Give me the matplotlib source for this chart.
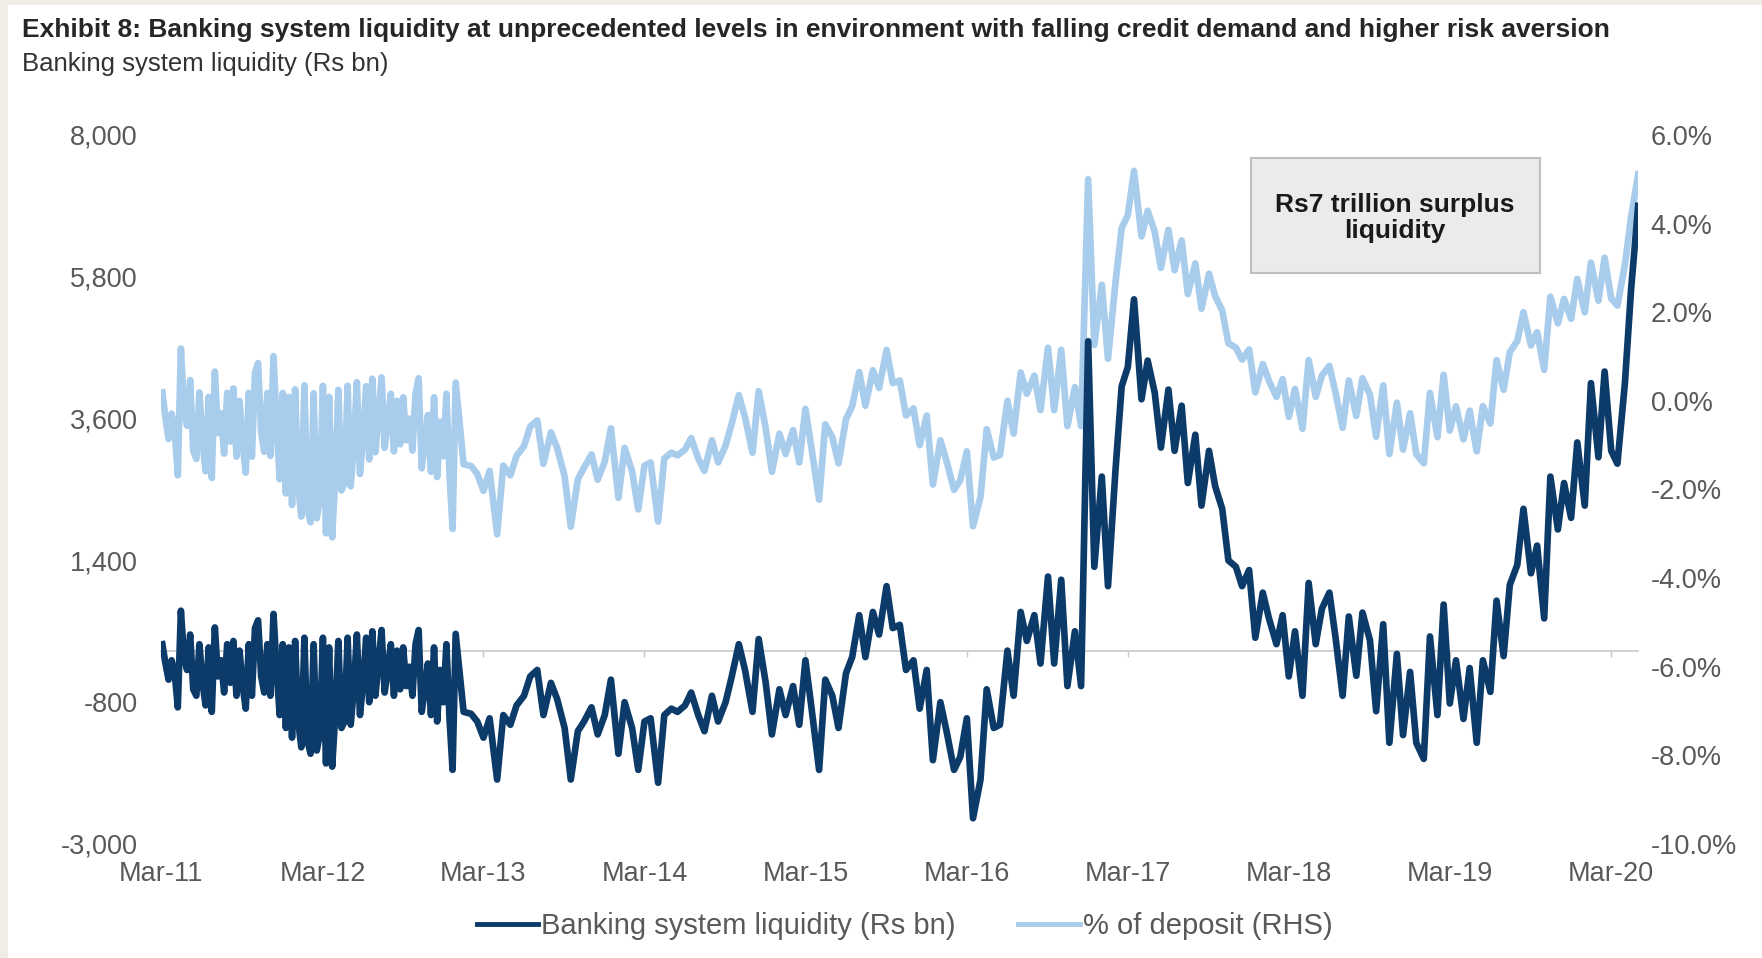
import pandas as pd
import matplotlib
matplotlib.use('Agg')
import matplotlib.pyplot as plt
from matplotlib.patches import Rectangle
from matplotlib.ticker import FuncFormatter
import matplotlib.dates as mdates

plt.rcParams['font.family'] = ['Liberation Sans', 'DejaVu Sans']

# weekly readings, Mar-2011 .. Dec-2012 (Rs bn and % of deposit)
liq_weekly = [100, -200, -450, -150, -350, -880, 620, -100,
              -300, 250, -600, -700, 100, -500, -850, 50,
              -950, 360, -400, -150, -650, 100, -500, 150,
              -700, 0, -550, -900, 100, -700, 350, 470,
              -400, -650, 100, -700, 570, -300, -1000, 100,
              -1200, 50, -1350, 150, -1100, -1500, 200, -1400,
              -1600, 100, -1550, -1300, 200, -1750, 50, -1800,
              -1000, 150, -1200, -1100, 200, -1150, -600, 250,
              -1000, -500, 200, -800, 300, -700, -200, 320,
              -650, -300, 100, -700, 0, -600, 50, -550,
              -250, -700, 100, 320, -950, -600, -200, -1000,
              50, -1100, -300, -800, 100, -1050, -1850, 260]
pct_weekly = [0.19, -0.38, -0.86, -0.29, -0.67, -1.68, 1.18, -0.19,
              -0.56, 0.47, -1.12, -1.31, 0.19, -0.93, -1.59, 0.09,
              -1.74, 0.66, -0.73, -0.28, -1.19, 0.18, -0.92, 0.28,
              -1.26, 0.00, -0.99, -1.62, 0.18, -1.26, 0.63, 0.85,
              -0.71, -1.15, 0.18, -1.24, 1.01, -0.53, -1.77, 0.18,
              -2.09, 0.09, -2.35, 0.26, -1.91, -2.61, 0.35, -2.43,
              -2.74, 0.17, -2.65, -2.22, 0.34, -2.99, 0.09, -3.08,
              -1.68, 0.25, -2.02, -1.85, 0.34, -1.93, -1.01, 0.42,
              -1.65, -0.83, 0.33, -1.32, 0.50, -1.16, -0.33, 0.53,
              -1.06, -0.49, 0.16, -1.14, 0.00, -0.98, 0.08, -0.89,
              -0.40, -1.12, 0.16, 0.51, -1.52, -0.96, -0.32, -1.60,
              0.08, -1.72, -0.47, -1.25, 0.16, -1.64, -2.89, 0.41]

# semi-monthly readings from mid Jan-2013
liq_2013 = [-950, -980, -1100, -1350, -1050, -2000, -1000, -1150, -850, -700, -400, -300,
            -1000, -500, -750, -1200, -2000, -1250, -1100, -880, -1300, -1000, -450, -1600]
liq_2014 = [-800, -1200, -1850, -1100, -1050, -2050, -1000, -900, -950, -850, -650, -1000,
            -1250, -700, -1100, -800, -400, 100, -300, -950, 180, -500, -1300, -600]
liq_2015 = [-1000, -550, -1150, -150, -900, -1850, -450, -700, -1200, -350, -100, 550,
            -100, 600, 250, 1000, 350, 400, -300, -150, -900, -300, -1700, -800]
liq_2016 = [-1250, -1850, -1650, -1050, -2600, -2000, -600, -1200, -1150, 0, -700, 600,
            150, 550, -200, 1150, -200, 1100, -550, 300, -550, 4800, 1300, 2700]
liq_2017 = [1000, 2800, 4100, 4400, 5450, 3900, 4500, 4000, 3150, 4050, 3100, 3800,
            2600, 3350, 2250, 3100, 2550, 2200, 1400, 1300, 1000, 1250, 200, 900]
liq_2018 = [500, 100, 550, -400, 300, -700, 1050, 100, 650, 900, 200, -700,
            530, -390, 590, 160, -940, 410, -1430, -50, -1310, -330, -1430, -1680]
liq_2019 = [220, -1000, 715, -820, -150, -1060, -270, -1430, -150, -640, 775, -85,
            1020, 1330, 2200, 1200, 1630, 500, 2700, 1880, 2600, 2060, 3230, 2250]
liq_2020 = [4150, 3000, 4330, 3100, 2900, 4150, 5600, 6900]

pct_2013 = [-1.43, -1.47, -1.65, -2.03, -1.58, -3.01, -1.46, -1.68, -1.24, -1.02, -0.58, -0.44,
            -1.42, -0.71, -1.06, -1.70, -2.84, -1.77, -1.51, -1.21, -1.78, -1.37, -0.62, -2.19]
pct_2014 = [-1.06, -1.59, -2.45, -1.46, -1.39, -2.72, -1.30, -1.17, -1.23, -1.10, -0.84, -1.30,
            -1.58, -0.89, -1.39, -1.01, -0.51, 0.13, -0.37, -1.17, 0.22, -0.62, -1.60, -0.74]
pct_2015 = [-1.20, -0.66, -1.39, -0.18, -1.08, -2.23, -0.53, -0.82, -1.41, -0.41, -0.12, 0.65,
            -0.11, 0.69, 0.29, 1.15, 0.40, 0.46, -0.33, -0.17, -1.00, -0.33, -1.89, -0.89]
pct_2016 = [-1.36, -2.01, -1.79, -1.14, -2.83, -2.17, -0.64, -1.28, -1.22, 0.00, -0.74, 0.64,
            0.16, 0.57, -0.21, 1.20, -0.21, 1.15, -0.57, 0.31, -0.57, 5.00, 1.26, 2.62]
pct_2017 = [0.95, 2.67, 3.90, 4.19, 5.19, 3.71, 4.29, 3.81, 3.00, 3.86, 2.95, 3.62,
            2.41, 3.10, 2.08, 2.87, 2.36, 2.04, 1.30, 1.20, 0.93, 1.16, 0.19, 0.83]
pct_2018 = [0.45, 0.09, 0.49, -0.36, 0.27, -0.63, 0.92, 0.09, 0.57, 0.79, 0.18, -0.61,
            0.46, -0.34, 0.51, 0.14, -0.81, 0.35, -1.20, -0.04, -1.10, -0.28, -1.20, -1.41]
pct_2019 = [0.18, -0.82, 0.59, -0.67, -0.12, -0.87, -0.22, -1.14, -0.12, -0.51, 0.92, 0.25,
            1.10, 1.35, 2.00, 1.25, 1.55, 0.70, 2.35, 1.75, 2.30, 1.85, 2.75, 2.00]
pct_2020 = [3.12, 2.26, 3.23, 2.31, 2.15, 3.07, 4.15, 5.11]

left_ticks = [-3000, -800, 1400, 3600, 5800, 8000]
right_ticks = [-10, -8, -6, -4, -2, 0, 2, 4, 6]
tick_years = list(range(2011, 2021))

liq_semi = liq_2013 + liq_2014 + liq_2015 + liq_2016 + liq_2017 + liq_2018 + liq_2019 + liq_2020
pct_semi = pct_2013 + pct_2014 + pct_2015 + pct_2016 + pct_2017 + pct_2018 + pct_2019 + pct_2020

dates_weekly = pd.date_range('2011-03-04', periods=len(liq_weekly), freq='7D')
dates_semi = pd.date_range('2013-01-15', periods=len(liq_semi), freq='SMS')
dates = dates_weekly.append(dates_semi)
liquidity = liq_weekly + liq_semi
pct_deposit = pct_weekly + pct_semi

DARK = '#0c3a69'
LIGHT = '#a8ccec'
GREY = '#595959'

fig = plt.figure(figsize=(17.62, 9.58), dpi=100)
fig.patch.set_facecolor('#efede6')
fig.add_artist(Rectangle((8 / 1762, 0), 1, 1 - 5 / 958, transform=fig.transFigure,
                         facecolor='white', edgecolor='none', zorder=-5))

ax = fig.add_axes([0.0914, 0.119, 0.8383, 0.7401])
ax2 = ax.twinx()

l2, = ax2.plot(dates, pct_deposit, color=LIGHT, lw=4.8, solid_joinstyle='round')
l1, = ax.plot(dates, liquidity, color=DARK, lw=4.8, solid_joinstyle='round')
ax.set_zorder(ax2.get_zorder() + 1)
ax.patch.set_visible(False)

ax.set_xlim(pd.Timestamp('2011-03-01'), pd.Timestamp('2020-05-01'))
ax.set_ylim(-3000, 8000)
ax2.set_ylim(-10, 6)

ax.set_yticks(left_ticks)
ax.yaxis.set_major_formatter(FuncFormatter(lambda v, p: f'{v:,.0f}'))
ax2.set_yticks(right_ticks)
ax2.yaxis.set_major_formatter(FuncFormatter(lambda v, p: f'{v:.1f}%'))

xt = [pd.Timestamp(f'{y}-03-01') for y in tick_years]
ax.set_xticks(xt)
ax.xaxis.set_major_formatter(mdates.DateFormatter('%b-%y'))

for a in (ax, ax2):
    for s in a.spines.values():
        s.set_visible(False)

ax.tick_params(axis='y', length=0, pad=17, labelsize=19.5, labelcolor=GREY)
ax.tick_params(axis='x', length=0, pad=12, labelsize=19.5, labelcolor=GREY)
ax2.tick_params(axis='y', length=0, pad=9, labelsize=19.5, labelcolor=GREY)

# category axis crossing at zero
sec = ax.secondary_xaxis(3000 / 11000)
sec.set_xticks(mdates.date2num(xt))
sec.tick_params(direction='out', length=4, width=1, color='#c8c8c8', labelbottom=False, labeltop=False)
for s in sec.spines.values():
    s.set_color('#c8c8c8')
    s.set_linewidth(1.2)

fig.text(22 / 1762, 1 - 30 / 958,
         'Exhibit 8: Banking system liquidity at unprecedented levels in environment with falling credit demand and higher risk aversion',
         fontsize=19, fontweight='bold', color='#262626', ha='left', va='center')
fig.text(22 / 1762, 1 - 64 / 958, 'Banking system liquidity (Rs bn)',
         fontsize=18.5, color='#333333', ha='left', va='center')

fig.add_artist(Rectangle((1251 / 1762, 1 - 273 / 958), 289 / 1762, 115 / 958,
                         transform=fig.transFigure, facecolor='#ebebeb',
                         edgecolor='#bfbfbf', lw=1.5, zorder=5))
fig.text(1395 / 1762, 1 - 218 / 958, 'Rs7 trillion surplus\nliquidity',
         fontsize=19, fontweight='bold', color='#1a1a1a', ha='center', va='center',
         linespacing=1.12, zorder=6)

leg = fig.legend([l1, l2], ['Banking system liquidity (Rs bn)', '% of deposit (RHS)'],
                 loc='center', bbox_to_anchor=(0.5134, 1 - 926 / 958), ncol=2, frameon=False,
                 fontsize=21, handlelength=2.1, handletextpad=0.1, columnspacing=2.15,
                 labelcolor=GREY)
for h in leg.get_lines():
    h.set_linewidth(3.5)

fig.savefig('out.png', dpi=100, facecolor=fig.get_facecolor())
